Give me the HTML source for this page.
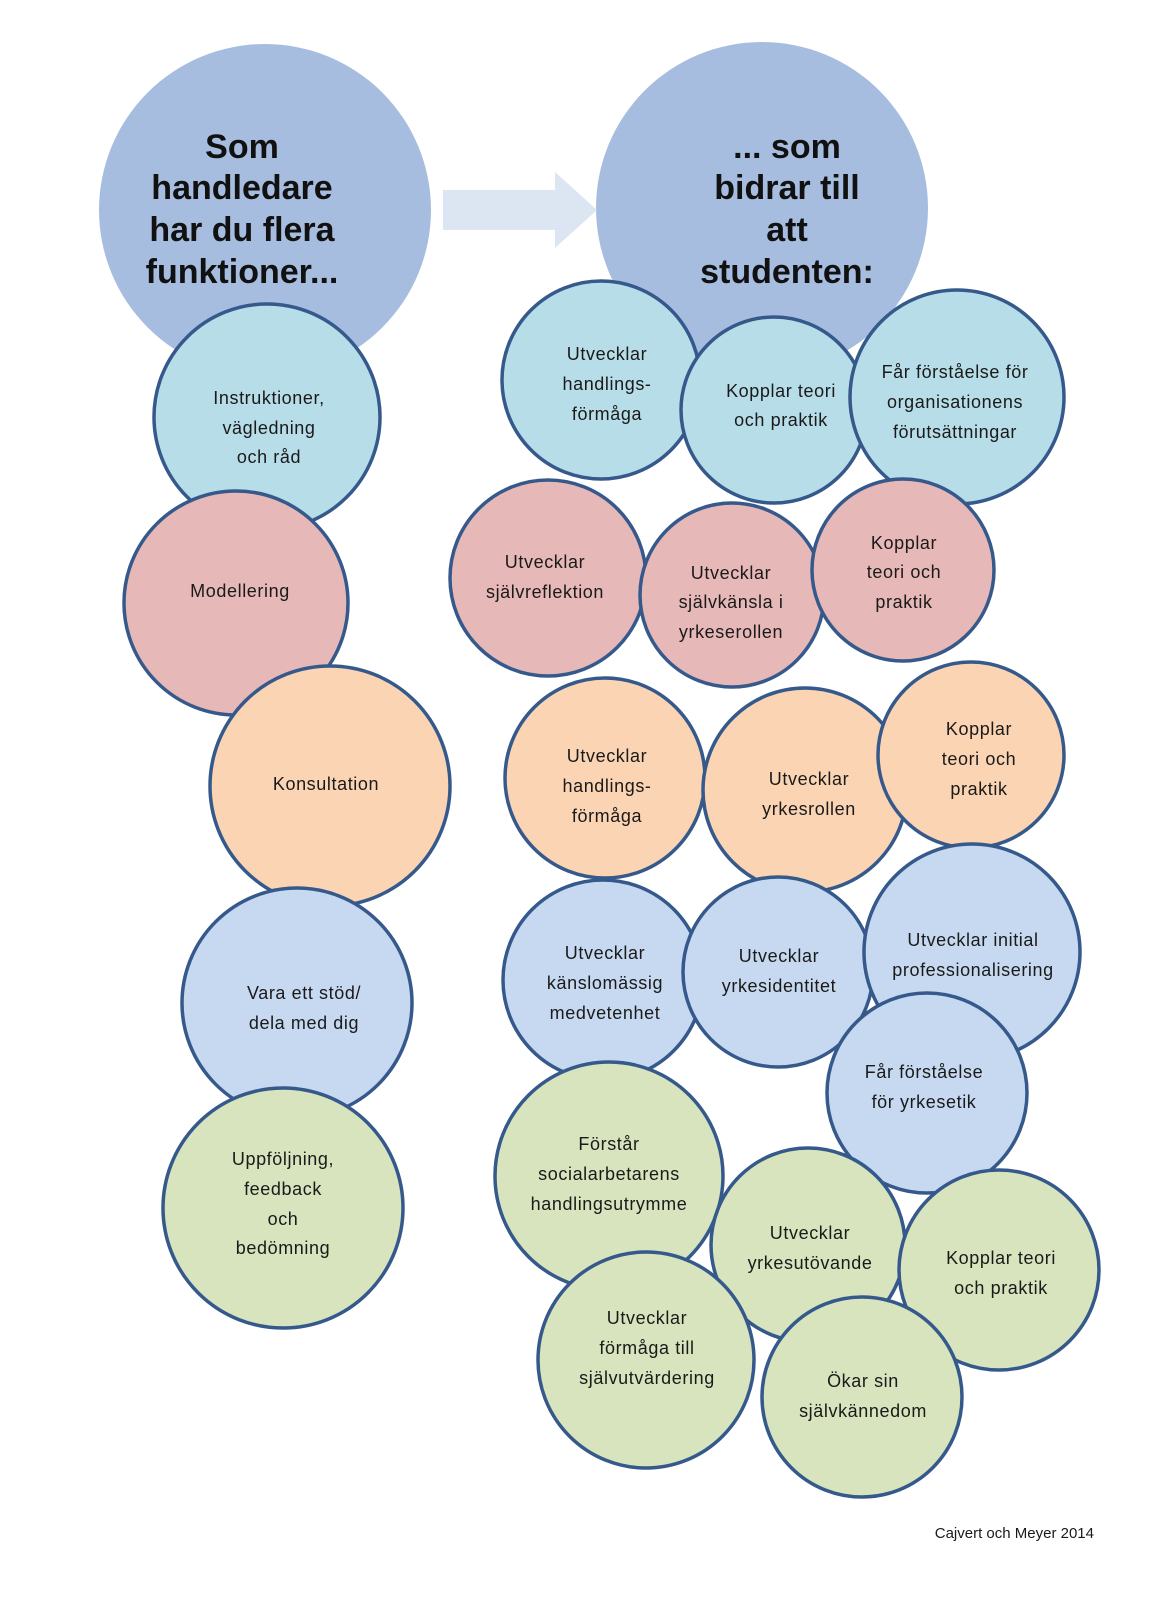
<!DOCTYPE html>
<html><head><meta charset="utf-8"><style>
html,body{margin:0;padding:0;background:#fff;}
svg text{font-family:"Liberation Sans",sans-serif;fill:#1a1a1a;}
.s{font-size:18px;letter-spacing:0.6px;text-anchor:middle;}
.b{font-size:34px;font-weight:bold;text-anchor:middle;fill:#111;}
circle.c{stroke:#36598c;stroke-width:3.5;}
</style></head><body>
<svg width="1152" height="1602" viewBox="0 0 1152 1602" xmlns="http://www.w3.org/2000/svg">
<circle cx="265" cy="210" r="166" fill="#a6bddf"/>
<circle cx="762" cy="208" r="166" fill="#a6bddf"/>
<polygon points="443,190 555,190 555,172 597,210 555,248 555,230 443,230" fill="#dce6f2"/>
<text class="b" x="242" y="158">Som</text>
<text class="b" x="242" y="199">handledare</text>
<text class="b" x="242" y="241">har du flera</text>
<text class="b" x="242" y="283">funktioner...</text>
<text class="b" x="787" y="158">... som</text>
<text class="b" x="787" y="199">bidrar till</text>
<text class="b" x="787" y="241">att</text>
<text class="b" x="787" y="283">studenten:</text>

<circle class="c" cx="267" cy="417" r="113" fill="#b7dde8"/>
<text class="s" x="269" y="404">Instruktioner,</text><text class="s" x="269" y="434">vägledning</text><text class="s" x="269" y="463">och råd</text>
<circle class="c" cx="236" cy="603" r="112" fill="#e6b8b7"/>
<text class="s" x="240" y="597">Modellering</text>
<circle class="c" cx="330" cy="786" r="120" fill="#fbd4b4"/>
<text class="s" x="326" y="790">Konsultation</text>
<circle class="c" cx="297" cy="1003" r="115" fill="#c6d9f1"/>
<text class="s" x="304" y="999">Vara ett stöd/</text><text class="s" x="304" y="1029">dela med dig</text>
<circle class="c" cx="283" cy="1208" r="120" fill="#d7e4bd"/>
<text class="s" x="283" y="1165">Uppföljning,</text><text class="s" x="283" y="1195">feedback</text><text class="s" x="283" y="1225">och</text><text class="s" x="283" y="1254">bedömning</text>

<circle class="c" cx="601" cy="380" r="99" fill="#b7dde8"/>
<text class="s" x="607" y="360">Utvecklar</text><text class="s" x="607" y="390">handlings-</text><text class="s" x="607" y="420">förmåga</text>
<circle class="c" cx="774" cy="410" r="93" fill="#b7dde8"/>
<text class="s" x="781" y="397">Kopplar teori</text><text class="s" x="781" y="426">och praktik</text>
<circle class="c" cx="957" cy="397" r="107" fill="#b7dde8"/>
<text class="s" x="955" y="378">Får förståelse för</text><text class="s" x="955" y="408">organisationens</text><text class="s" x="955" y="438">förutsättningar</text>

<circle class="c" cx="548" cy="578" r="98" fill="#e6b8b7"/>
<text class="s" x="545" y="568">Utvecklar</text><text class="s" x="545" y="598">självreflektion</text>
<circle class="c" cx="732" cy="595" r="92" fill="#e6b8b7"/>
<text class="s" x="731" y="579">Utvecklar</text><text class="s" x="731" y="608">självkänsla i</text><text class="s" x="731" y="638">yrkeserollen</text>
<circle class="c" cx="903" cy="570" r="91" fill="#e6b8b7"/>
<text class="s" x="904" y="549">Kopplar</text><text class="s" x="904" y="578">teori och</text><text class="s" x="904" y="608">praktik</text>

<circle class="c" cx="605" cy="778" r="100" fill="#fbd4b4"/>
<text class="s" x="607" y="762">Utvecklar</text><text class="s" x="607" y="792">handlings-</text><text class="s" x="607" y="822">förmåga</text>
<circle class="c" cx="805" cy="790" r="102" fill="#fbd4b4"/>
<text class="s" x="809" y="785">Utvecklar</text><text class="s" x="809" y="815">yrkesrollen</text>
<circle class="c" cx="971" cy="755" r="93" fill="#fbd4b4"/>
<text class="s" x="979" y="735">Kopplar</text><text class="s" x="979" y="765">teori och</text><text class="s" x="979" y="795">praktik</text>

<circle class="c" cx="603" cy="980" r="100" fill="#c6d9f1"/>
<text class="s" x="605" y="959">Utvecklar</text><text class="s" x="605" y="989">känslomässig</text><text class="s" x="605" y="1019">medvetenhet</text>
<circle class="c" cx="778" cy="972" r="95" fill="#c6d9f1"/>
<text class="s" x="779" y="962">Utvecklar</text><text class="s" x="779" y="992">yrkesidentitet</text>
<circle class="c" cx="972" cy="952" r="108" fill="#c6d9f1"/>
<text class="s" x="973" y="946">Utvecklar initial</text><text class="s" x="973" y="976">professionalisering</text>
<circle class="c" cx="927" cy="1093" r="100" fill="#c6d9f1"/>
<text class="s" x="924" y="1078">Får förståelse</text><text class="s" x="924" y="1108">för yrkesetik</text>

<circle class="c" cx="609" cy="1176" r="114" fill="#d7e4bd"/>
<text class="s" x="609" y="1150">Förstår</text><text class="s" x="609" y="1180">socialarbetarens</text><text class="s" x="609" y="1210">handlingsutrymme</text>
<circle class="c" cx="808" cy="1245" r="97" fill="#d7e4bd"/>
<text class="s" x="810" y="1239">Utvecklar</text><text class="s" x="810" y="1269">yrkesutövande</text>
<circle class="c" cx="999" cy="1270" r="100" fill="#d7e4bd"/>
<text class="s" x="1001" y="1264">Kopplar teori</text><text class="s" x="1001" y="1294">och praktik</text>
<circle class="c" cx="646" cy="1360" r="108" fill="#d7e4bd"/>
<text class="s" x="647" y="1324">Utvecklar</text><text class="s" x="647" y="1354">förmåga till</text><text class="s" x="647" y="1384">självutvärdering</text>
<circle class="c" cx="862" cy="1397" r="100" fill="#d7e4bd"/>
<text class="s" x="863" y="1387">Ökar sin</text><text class="s" x="863" y="1417">självkännedom</text>

<text x="1094" y="1538" style="font-size:15px;text-anchor:end;">Cajvert och Meyer 2014</text>
</svg>
</body></html>
